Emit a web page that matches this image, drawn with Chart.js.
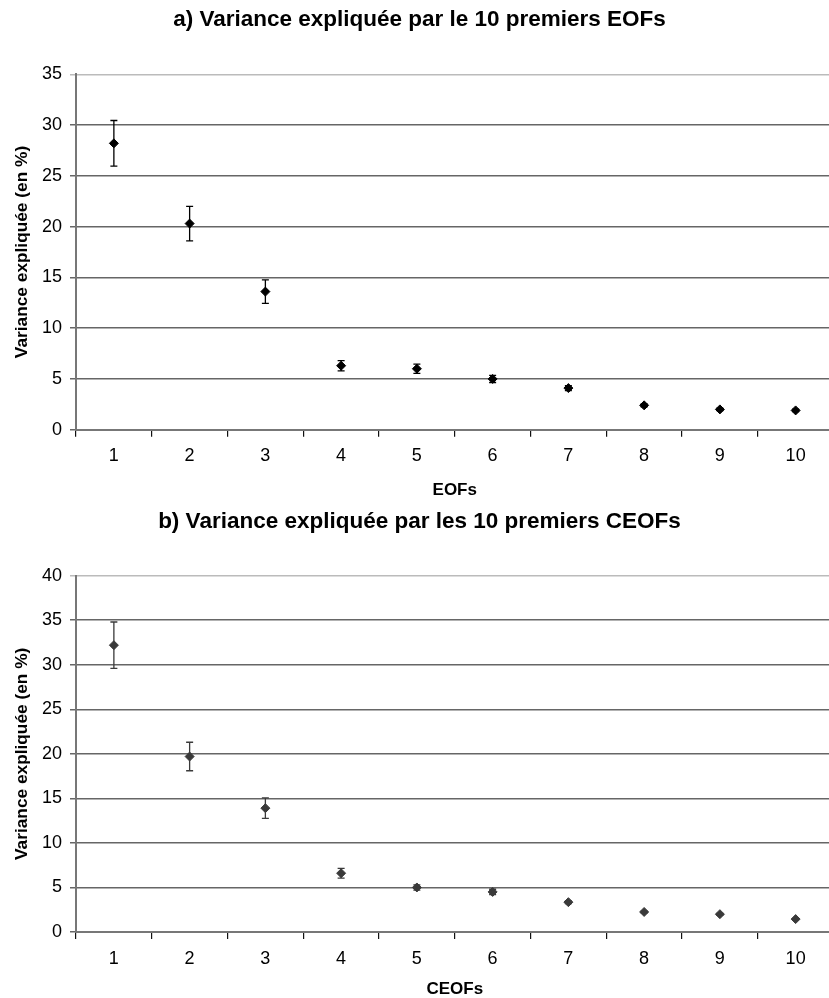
<!DOCTYPE html>
<html><head><meta charset="utf-8">
<script src="https://cdn.jsdelivr.net/npm/chart.js@4/dist/chart.umd.min.js"></script>
<style>
html,body{margin:0;padding:0;background:#fff;overflow:hidden;width:829px;height:998px}
.wrap{position:absolute;left:0;width:839px}
</style></head><body>
<div class="wrap" style="top:0;height:505px"><canvas id="a"></canvas></div>
<div class="wrap" style="top:505px;height:493px"><canvas id="b"></canvas></div>
<script>
const eofLabels = ['1','2','3','4','5','6','7','8','9','10'];
const eofValues = [28.2, 20.3, 13.6, 6.3, 6.0, 5.0, 4.1, 2.4, 2.0, 1.9];
const eofErrors = [2.25, 1.7, 1.15, 0.5, 0.45, 0.35, 0.25, 0.15, 0.12, 0.12];
const ceofLabels = ['1','2','3','4','5','6','7','8','9','10'];
const ceofValues = [32.2, 19.7, 13.9, 6.6, 5.0, 4.5, 3.35, 2.25, 2.0, 1.45];
const ceofErrors = [2.6, 1.6, 1.15, 0.55, 0.3, 0.3, 0.15, 0.1, 0.1, 0.05];
const yTicksA = [0,5,10,15,20,25,30,35];
const yTicksB = [0,5,10,15,20,25,30,35,40];

const FONT = "'Liberation Sans', Arial, Helvetica, sans-serif";

const errorBars = {
  id: 'errorBars',
  afterDatasetsDraw(chart, args, opts) {
    const ctx = chart.ctx;
    const ds = chart.data.datasets[0];
    const meta = chart.getDatasetMeta(0);
    const y = chart.scales.y;
    ctx.save();
    ctx.strokeStyle = opts.color;
    ctx.lineWidth = 1.3;
    meta.data.forEach((pt, i) => {
      const v = ds.data[i], e = opts.errors[i];
      const yt = y.getPixelForValue(v + e), yb = y.getPixelForValue(v - e);
      const x = pt.x;
      ctx.beginPath();
      ctx.moveTo(x, yt); ctx.lineTo(x, yb);
      ctx.moveTo(x - 3.5, yt); ctx.lineTo(x + 3.5, yt);
      ctx.moveTo(x - 3.5, yb); ctx.lineTo(x + 3.5, yb);
      ctx.stroke();
    });
    ctx.restore();
  }
};

function make(id, labels, values, errors, yTicks, title, xTitle, color, xHeight, titlePad) {
  const max = yTicks[yTicks.length - 1];
  return new Chart(document.getElementById(id), {
    type: 'line',
    data: {
      labels: labels,
      datasets: [{
        data: values,
        showLine: false,
        pointStyle: 'rectRot',
        pointRadius: 4.5,
        pointBackgroundColor: color,
        pointBorderColor: color,
        borderColor: color
      }]
    },
    options: {
      responsive: true,
      maintainAspectRatio: false,
      animation: false,
      layout: { padding: 0 },
      plugins: {
        legend: { display: false },
        tooltip: { enabled: false },
        title: {
          display: true,
          text: title,
          color: '#000',
          font: { family: FONT, size: 22.5, weight: 'bold', lineHeight: 1.2 },
          padding: titlePad
        },
        errorBars: { errors: errors, color: color }
      },
      scales: {
        x: {
          type: 'category',
          offset: true,
          grid: {
            display: true,
            offset: true,
            drawOnChartArea: false,
            drawTicks: true,
            tickLength: 7,
            color: '#111',
            lineWidth: 1.2
          },
          border: { display: true, color: '#777', width: 2 },
          ticks: { color: '#000', font: { family: FONT, size: 18 }, padding: 9, maxRotation: 0 },
          title: {
            display: true, text: xTitle, color: '#000',
            font: { family: FONT, size: 17, weight: 'bold', lineHeight: 1 },
            padding: { top: 0, bottom: id === 'a' ? 6.5 : 0 }
          },
          afterFit(scale) { scale.height = xHeight; }
        },
        y: {
          min: 0, max: max,
          afterBuildTicks(scale) { scale.ticks = yTicks.map(v => ({ value: v })); },
          grid: {
            color: (c) => c.tick && c.tick.value === max ? '#bbb' : '#666',
            lineWidth: 1.5,
            tickLength: 6
          },
          border: { display: true, color: '#777', width: 2 },
          ticks: { color: '#000', font: { family: FONT, size: 18 }, padding: 8 },
          title: {
            display: true, text: 'Variance expliquée (en %)', color: '#000',
            font: { family: FONT, size: 17.3, weight: 'bold', lineHeight: 1.2 },
            padding: { top: 12, bottom: 0 }
          },
          afterFit(scale) { scale.width = 76; }
        }
      }
    },
    plugins: [errorBars]
  });
}

make('a', eofLabels, eofValues, eofErrors, yTicksA,
  'a) Variance expliquée par le 10 premiers EOFs', 'EOFs', '#000', 75.3, { top: 6.5, bottom: 40.8 });
make('b', ceofLabels, ceofValues, ceofErrors, yTicksB,
  'b) Variance expliquée par les 10 premiers CEOFs', 'CEOFs', '#3a3a3a', 66, { top: 3.5, bottom: 40.2 });
</script>
</body></html>
